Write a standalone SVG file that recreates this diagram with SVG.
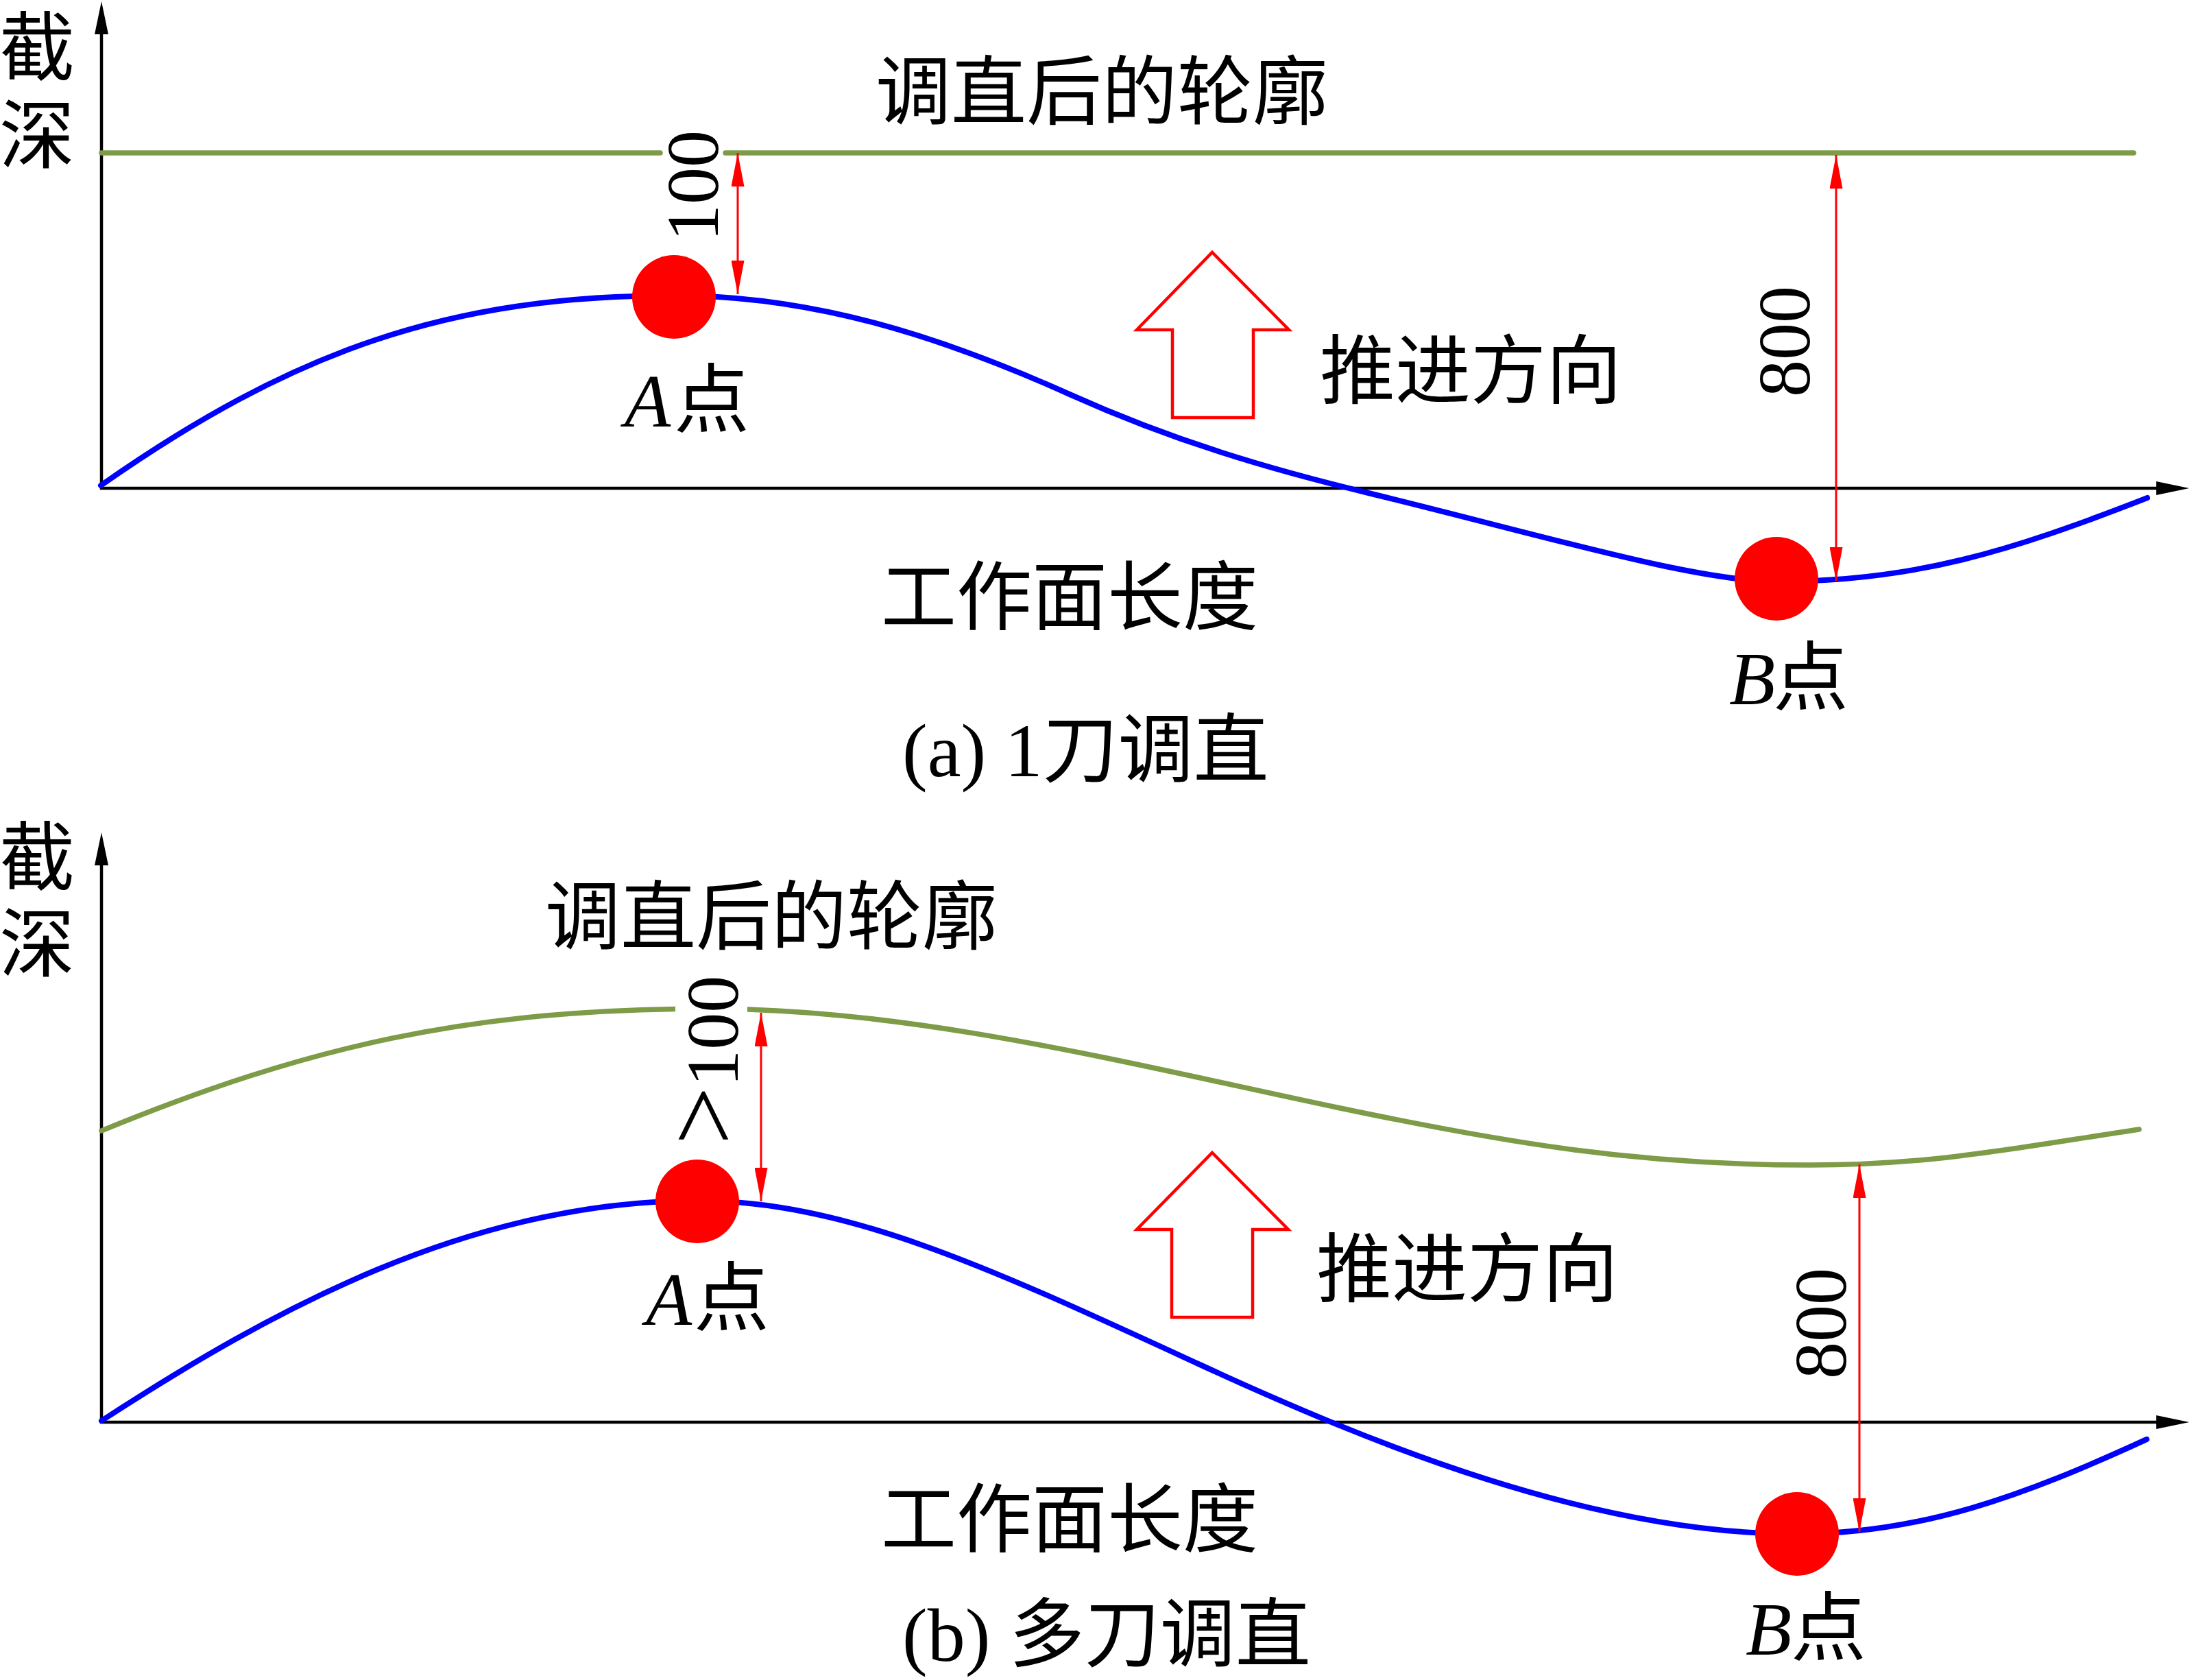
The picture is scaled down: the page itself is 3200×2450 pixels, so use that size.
<svg xmlns="http://www.w3.org/2000/svg" width="3200" height="2450" viewBox="0 0 3200 2450">
<style>
.axis{stroke:#000;stroke-width:4.5;fill:none}
.blue{stroke:#0000FF;stroke-width:8;fill:none;stroke-linecap:round}
.green{stroke:#7E9B48;stroke-width:7.5;fill:none;stroke-linecap:round}
.dim{stroke:#FF0000;stroke-width:3;fill:none}
.push{stroke:#FF0000;stroke-width:4.5;fill:none;stroke-linejoin:miter}
.dot{fill:#FF0000}
text{font-family:"Liberation Serif","Noto Sans CJK SC",serif;font-size:110px;fill:#000}
.it{font-style:italic}
.num{font-size:108px}
.gt{font-size:150px}
</style>
<defs>
<marker id="ax" markerUnits="userSpaceOnUse" markerWidth="50" markerHeight="20" viewBox="0 0 50 20" refX="2" refY="10" orient="auto"><path d="M0,0 L48,10 L0,20 z" fill="#000"/></marker>
<marker id="dm" markerUnits="userSpaceOnUse" markerWidth="49" markerHeight="19" viewBox="0 0 49 19" refX="49" refY="9.5" orient="auto-start-reverse"><path d="M0,0 L49,9.5 L0,19 z" fill="#FF0000"/></marker>
<clipPath id="gapB"><rect x="0" y="1300" width="985" height="500"/><rect x="1090" y="1300" width="2110" height="500"/></clipPath>
</defs>
<rect width="3200" height="2450" fill="#fff"/>

<!-- Panel (a) -->
<g id="axes-a">
<line class="axis" x1="148" y1="714" x2="148" y2="48" marker-end="url(#ax)"/>
<line class="axis" x1="146" y1="712" x2="3147" y2="712" marker-end="url(#ax)"/>
<text x="54" y="109" text-anchor="middle">截</text>
<text x="54" y="237" text-anchor="middle">深</text>
<text x="1560" y="910" text-anchor="middle">工作面长度</text>
</g>
<g id="profile-a">
<path class="green" d="M148,223 H963 M1058,223 H3112"/>
<text x="1607" y="173" text-anchor="middle">调直后的轮廓</text>
</g>
<g id="curve-a">
<path class="blue" d="M147,708 C427,512 654,431 984,431 C1184,431 1370,489.5 1560,575 C1710,642.5 1850,684 2000,720 C2250,780.75 2472,848 2592,848 C2792,848 2932,804 3132,726"/>
</g>
<g id="pointA-a">
<circle class="dot" cx="983" cy="433" r="61"/>
<text y="622"><tspan class="it" x="911">A</tspan><tspan x="983">点</tspan></text>
</g>
<g id="pointB-a">
<circle class="dot" cx="2591" cy="844" r="61"/>
<text y="1027"><tspan class="it" x="2522">B</tspan><tspan x="2586">点</tspan></text>
</g>
<g id="push-a">
<path class="push" d="M1710,481 H1658 L1768,368 L1880,481 H1828 V609 H1710 Z"/>
<text x="2145" y="580" text-anchor="middle">推进方向</text>
</g>
<g id="caption-a">
<text x="1316" y="1132">(a) 1刀调直</text>
</g>

<!-- Panel (b) -->
<g id="axes-b">
<line class="axis" x1="148" y1="2076" x2="148" y2="1260" marker-end="url(#ax)"/>
<line class="axis" x1="146" y1="2074" x2="3147" y2="2074" marker-end="url(#ax)"/>
<text x="54" y="1290" text-anchor="middle">截</text>
<text x="54" y="1416" text-anchor="middle">深</text>
<text x="1560" y="2255" text-anchor="middle">工作面长度</text>
</g>
<g id="profile-b">
<path class="green" clip-path="url(#gapB)" d="M148,1649 C448,1526 685,1471 1035,1471 C1335,1471 1650,1552 1950,1615 C2200,1667.5 2390,1699 2640,1699 C2820,1699 2940,1674 3120,1647"/>
<text x="1125" y="1376" text-anchor="middle">调直后的轮廓</text>
</g>
<g id="curve-b">
<path class="blue" d="M148,2072 C398,1909.5 687,1751 1017,1751 C1237,1751 1450,1852 1750,1990 C2000,2105 2321,2237 2621,2237 C2801,2237 2951,2181.8 3131,2099"/>
</g>
<g id="pointA-b">
<circle class="dot" cx="1017" cy="1752" r="61"/>
<text y="1932"><tspan class="it" x="942">A</tspan><tspan x="1012">点</tspan></text>
</g>
<g id="pointB-b">
<circle class="dot" cx="2621" cy="2237" r="61"/>
<text y="2413"><tspan class="it" x="2546">B</tspan><tspan x="2612">点</tspan></text>
</g>
<g id="push-b">
<path class="push" d="M1709,1793 H1658 L1768,1681 L1879,1793 H1827 V1921 H1709 Z"/>
<text x="2140" y="1890" text-anchor="middle">推进方向</text>
</g>
<g id="caption-b">
<text x="1316" y="2422">(b) 多刀调直</text>
</g>

<!-- Dimension connectors -->
<g id="dimensions">
<line class="dim" x1="1076" y1="223" x2="1076" y2="429" marker-start="url(#dm)" marker-end="url(#dm)"/>
<line class="dim" x1="2678" y1="226" x2="2678" y2="847" marker-start="url(#dm)" marker-end="url(#dm)"/>
<line class="dim" x1="1110" y1="1477" x2="1110" y2="1752" marker-start="url(#dm)" marker-end="url(#dm)"/>
<line class="dim" x1="2712" y1="1698" x2="2712" y2="2234" marker-start="url(#dm)" marker-end="url(#dm)"/>
</g>
<g id="dim-labels">
<text class="num" transform="translate(1047,271) rotate(-90)" text-anchor="middle">100</text>
<text class="num" transform="translate(2639,498) rotate(-90)" text-anchor="middle">800</text>
<text class="num" transform="translate(1076,1546) rotate(-90)" text-anchor="middle"><tspan class="gt">&gt;</tspan>100</text>
<text class="num" transform="translate(2692,1930) rotate(-90)" text-anchor="middle">800</text>
</g>
</svg>
